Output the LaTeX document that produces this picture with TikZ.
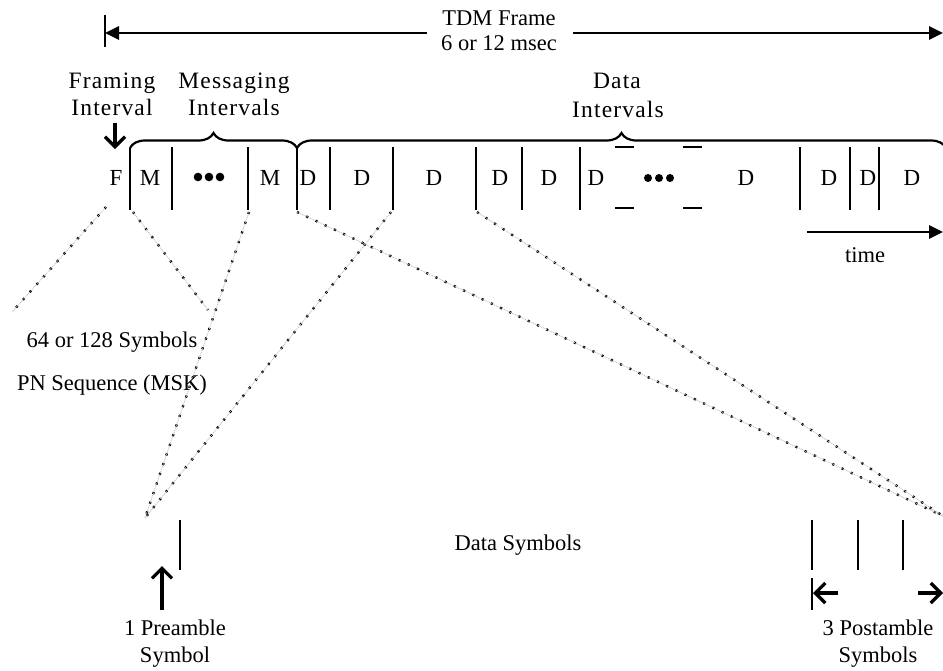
\documentclass[tikz,border=0pt]{standalone}
\usepackage{fontspec}
\setmainfont{Liberation Serif}
\newfontfamily\spacedfont[LetterSpace=5]{Liberation Serif}
\usetikzlibrary{arrows.meta}
\usetikzlibrary{decorations.pathreplacing}

\tikzset{
  lbl/.style={font=\fontsize{22.5}{26}\selectfont, inner sep=0pt, anchor=base},
  hdr/.style={font=\spacedfont\fontsize{23.5}{28}\selectfont, inner sep=0pt, anchor=base},
  slot/.style={font=\fontsize{23}{26}\selectfont, inner sep=0pt, anchor=base},
  divider/.style={line width=2.4pt},
  bar/.style={line width=2.6pt},
  tap/.style={gray!55, line width=0.7pt, dash pattern=on 1pt off 0.8pt,
    preaction={draw=black, line width=2.3pt, dash pattern=on 2.2pt off 8pt}},
  span brace/.style={line width=2.2pt, decorate, decoration={brace, amplitude=15pt}},
  barb/.style={-{Straight Barb[length=10pt, width=20pt]}, line width=3.2pt},
  head/.style={-{Triangle[length=14pt, width=13pt]}},
}

\begin{document}
\begin{tikzpicture}[x=1pt, y=-1pt]
\useasboundingbox (0,0) rectangle (943,670);

% frame length
\node[lbl] (tdm) at (499,25) {TDM Frame};
\node[lbl] (msec) at (499,50) {6 or 12 msec};
\coordinate (fl) at (105,33);
\coordinate (fr) at (943,33);
\coordinate (gl) at (427,33);
\coordinate (gr) at (573,33);
\draw[bar] (105,15) -- (105,47);
\draw[bar, head] (gl) -- (fl);
\draw[bar, head] (gr) -- (fr);

% interval names
\node[hdr] (frame1) at (112,88) {Framing};
\node[hdr] (frame2) at (112,115) {Interval};
\node[hdr] (msg1) at (234,88) {Messaging};
\node[hdr] (msg2) at (234,115) {Intervals};
\node[hdr] (data1) at (617,88) {Data};
\node[hdr] (data2) at (618,117) {Intervals};
\draw[barb] (115,123) -- (115,149);

% braces over the slots
\coordinate (b0) at (130,148);
\coordinate (b1) at (297,148);
\coordinate (b2) at (946,148);
\draw[span brace] (b0) -- (b1);
\draw[span brace] (b1) -- (b2);

% slots of the frame
\foreach \name/\x/\t in {f/116/F, m1/150/M, m2/270/M, d1/308/D, d2/362/D, d3/434/D,
    d4/500/D, d5/549/D, d6/596/D, d7/746/D, d8/829/D, d9/868/D, d10/912/D}
  \node[slot] (\name) at (\x,185) {\t};
\draw[divider] (b0) -- (130,210);
\foreach \x in {172,248,297,330,393,476,522,580,800,850,879}
  \draw[divider] (\x,147) -- (\x,210);
\foreach \x in {198,209,220}
  \fill (\x,177) circle (4.3pt);
\foreach \x in {648,659,670}
  \fill (\x,178) circle (4pt);
\foreach \x in {615,683}
{
  \draw[divider] (\x,147) -- ++(19,0);
  \draw[divider] (\x,208) -- ++(19,0);
}

% time axis
\coordinate (t0) at (807,232);
\coordinate (t1) at (943,232);
\draw[bar, head] (t0) -- (t1);
\node[lbl] (time) at (865,262) {time};

% expansion lines
\coordinate (fa) at (106,207);
\coordinate (fb) at (12,312);
\coordinate (ma) at (133,212);
\coordinate (mb) at (208,310);
\coordinate (pre) at (145,518);
\coordinate (post) at (943,516);
\draw[tap] (fa) -- (fb);
\draw[tap] (ma) -- (mb);
\draw[tap] (249,212) -- (pre);
\draw[tap] (391,212) -- (pre);
\draw[tap] (297,212) -- (post);
\draw[tap] (477,212) -- (post);

\node[lbl] (nsym) at (112,347) {64 or 128 Symbols};
\node[lbl] (pn) at (112,390) {PN Sequence (MSK)};

% symbols of one data interval
\draw[divider] (180,520) -- (180,570);
\draw[barb] (162,610) -- (162,566);
\node[lbl] (pre1) at (175,635) {1 Preamble};
\node[lbl] (pre2) at (175,662) {Symbol};
\node[lbl] (dsym) at (518,550) {Data Symbols};
\foreach \x in {812,858,903}
  \draw[divider] (\x,520) -- (\x,570);
\draw[bar] (812,578) -- (812,610);
\draw[barb] (838,593) -- (813,593);
\draw[barb] (918,593) -- (943,593);
\node[lbl] (post1) at (878,635) {3 Postamble};
\node[lbl] (post2) at (878,662) {Symbols};
\end{tikzpicture}
\end{document}
